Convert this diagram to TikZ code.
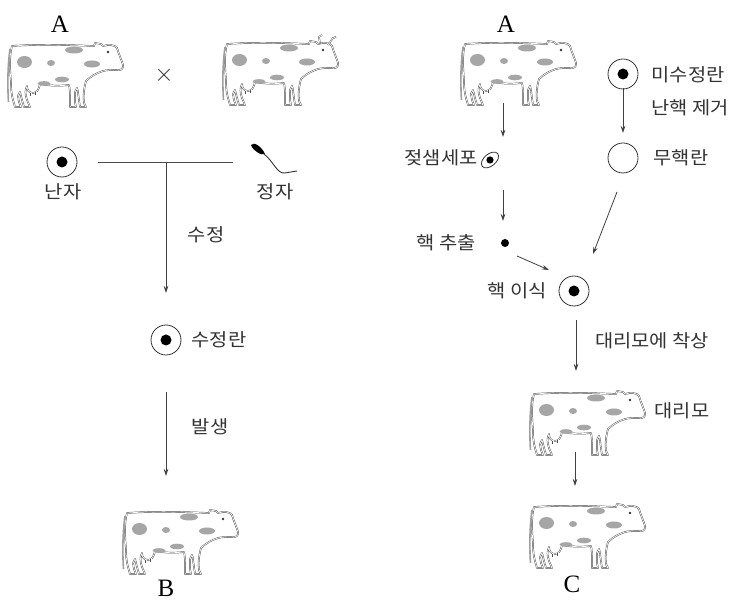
\documentclass[tikz,border=0pt]{standalone}
\usepackage{fontspec}
\setmainfont{Liberation Serif}
\newfontfamily\kr{Noto Sans CJK KR}[FakeStretch=1.1]
\usetikzlibrary{arrows.meta}
\tikzset{
  kt/.style={font=\kr\fontsize{18}{20}\selectfont, text=black!80, inner sep=0pt},
  big/.style={font=\fontsize{25}{27}\selectfont, inner sep=0pt},
  arr/.style={draw=black!75, line width=0.8pt, -{Stealth[length=7pt,width=4.5pt]}},
  ln/.style={draw=black!70, line width=0.8pt},
  egg/.style={circle, draw=black!80, line width=0.8pt, minimum size=30pt, inner sep=0pt,
    path picture={\fill[black] (path picture bounding box.center) circle (5.5pt);}},
  noegg/.style={circle, draw=black!80, line width=0.8pt, minimum size=30pt, inner sep=0pt},
  cowline/.style={draw=black!70, line width=0.45pt, double=white, double distance=0.7pt, line join=round},
  spot/.style={fill=gray!70},
  cow/.pic={
    \draw[cowline, fill=white] (7,4) .. controls (35,2) and (65,3) .. (89,4)
      -- (90,1) -- (96,2) -- (98,4)
      .. controls (104,2) and (110,3) .. (112,6)
      .. controls (114,13) and (117,19) .. (118,23)
      .. controls (119,27) and (115,29) .. (111,28)
      .. controls (106,28) and (102,28) .. (98,29)
      .. controls (92,31) and (86,34) .. (81,39)
      .. controls (79,46) and (78,55) .. (79,61) -- (81,65) -- (75,65) -- (74,58)
      .. controls (73,52) and (73,48) .. (72,46)
      -- (70,50) -- (70,60) -- (71,65) -- (65,65) -- (65,58)
      .. controls (65,52) and (65,47) .. (64,43)
      .. controls (55,44) and (45,44) .. (35,42)
      .. controls (34,47) and (32,51) .. (28,51) .. controls (24,51) and (22,48) .. (22,44)
      .. controls (20,48) and (20,52) .. (22,58) -- (25,65) -- (19,65) -- (17,58) -- (15,50)
      -- (13,54) -- (14,60) -- (16,65) -- (10,65) -- (8,58)
      .. controls (6,50) and (6,45) .. (6,40)
      .. controls (5,28) and (4,15) .. (7,4) -- cycle;
    \draw[gray!75, line width=1.6pt] (5,7) .. controls (2.5,25) and (2.5,45) .. (3.5,60);
    \draw[cowline] (26,51) -- (26,54);
    \draw[cowline] (31,50) -- (31,53);
    \fill[black!80] (103,10) circle (1.4);
    \fill[spot] (19.5,20) ellipse [x radius=7.5, y radius=6];
    \fill[spot] (46,21) ellipse [x radius=4, y radius=3];
    \fill[spot] (69,8) ellipse [x radius=9, y radius=3.5];
    \fill[spot] (87,22) ellipse [x radius=8, y radius=3.5];
    \fill[spot] (39,41.5) ellipse [x radius=6.5, y radius=2.3];
    \fill[spot] (57,37.5) ellipse [x radius=7, y radius=2.8];
  },
  horns/.pic={
    \draw[cowline] (100,4) -- (99,-3) -- (102,-5);
    \draw[cowline] (108,5) -- (113,-2) -- (116,-3);
  },
}
\begin{document}
\begin{tikzpicture}[x=1pt,y=-1pt]
\path[use as bounding box, fill=white] (0,0) rectangle (737,601);

% ---------- left panel ----------
\node[big] (A1) at (60,24) {A};
\pic (cowA) at (5,42) {cow};
\node[font=\fontsize{32}{34}\selectfont, inner sep=0pt, text=black!80] (times) at (164,75) {$\times$};
\pic (bull) at (220,40) {cow};
\pic (bullh) at (220,40) {horns};

\node[egg] (egg1) at (62,162) {};
\node[kt] (nanja) at (63,192) {난자};
\fill[black] (251,145) .. controls (254,141) and (262,147) .. (265,154)
   .. controls (262,156) and (253,151) .. (251,145) -- cycle;
\draw[black!80, line width=0.9pt] (264,154) .. controls (274,162) and (277,174) .. (285,173) -- (297,171);
\node[kt] (jeongja) at (275,192) {정자};

\coordinate (hl) at (98,162);
\coordinate (hr) at (233,162);
\coordinate (hm) at (166,162);
\coordinate (v1) at (166,293);
\draw[ln] (hl) -- (hr);
\draw[arr] (hm) -- (v1);
\node[kt] (sujeong) at (206,235) {수정};

\node[egg] (egg2) at (166,340) {};
\node[kt] (sujeongran) at (219,340) {수정란};
\coordinate (b1) at (166,392);
\coordinate (b2) at (166,476);
\draw[arr] (b1) -- (b2);
\node[kt] (balsaeng) at (210,427) {발생};
\pic (cowB) at (120,509) {cow};
\node[big] (B) at (166,588) {B};

% ---------- right panel ----------
\node[big] (A2) at (506,24) {A};
\pic (cowA2) at (458,40) {cow};
\node[egg] (egg3) at (623,74) {};
\node[kt] (misujeong) at (688,75) {미수정란};
\coordinate (e3b) at (623,88);
\coordinate (e4t) at (623,133);
\draw[arr] (e3b) -- (e4t);
\node[kt] (nanhaek) at (690,108) {난핵 제거};
\node[noegg] (egg4) at (623,158) {};
\node[kt] (muhaek) at (681,158) {무핵란};

\coordinate (c1) at (503,103);
\coordinate (c2) at (503,137);
\draw[arr] (c1) -- (c2);
\draw[black!80, line width=0.8pt, shift={(490,160)}, rotate=40] (0,0) ellipse [x radius=10, y radius=6];
\fill[black] (490,160) circle (3.6);
\node[kt] (jeot) at (441,158) {젖샘세포};
\coordinate (d1) at (503,190);
\coordinate (d2) at (503,221);
\draw[arr] (d1) -- (d2);
\node[circle, fill=black, minimum size=8pt, inner sep=0pt] (nuc) at (505,243) {};
\node[kt] (chuchul) at (446,243) {핵 추출};
\coordinate (f1) at (517,256);
\coordinate (f2) at (549,270);
\draw[arr] (f1) -- (f2);
\coordinate (g1) at (617,192);
\coordinate (g2) at (593,254);
\draw[arr] (g1) -- (g2);
\node[egg] (egg5) at (574,291) {};
\node[kt] (isik) at (517,291) {핵 이식};
\coordinate (h1) at (576,320);
\coordinate (h2) at (576,371);
\draw[arr] (h1) -- (h2);
\node[kt] (chaksang) at (652,341) {대리모에 착상};
\pic (cowS) at (527,390) {cow};
\node[kt] (daerimo) at (682,411) {대리모};
\coordinate (k1) at (575,452);
\coordinate (k2) at (575,486);
\draw[arr] (k1) -- (k2);
\pic (cowC) at (527,503) {cow};
\node[big] (C) at (572,584) {C};
\end{tikzpicture}
\end{document}
